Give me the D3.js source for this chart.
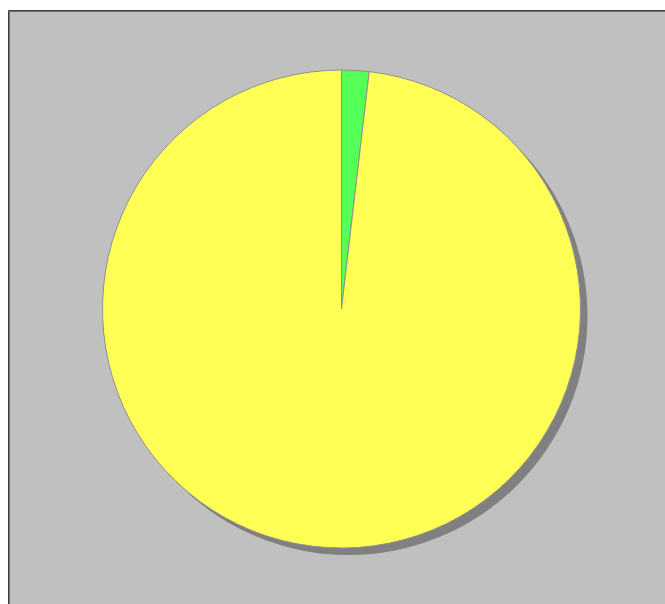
<!DOCTYPE html>
<html>
<head>
<meta charset="utf-8">
<script src="https://cdn.jsdelivr.net/npm/d3@7"></script>
<style>
html,body{margin:0;padding:0;background:#fff;}
svg{display:block;}
</style>
</head>
<body>
<script>
const categories = ["A", "B"];
const values = [1.85, 98.15];
const colors = ["#55ff55", "#ffff55"];

const W = 665, H = 604;
const svg = d3.select("body").append("svg").attr("width", W).attr("height", H);

// panel
svg.append("rect").attr("x", 8).attr("y", 10).attr("width", W).attr("height", H)
  .attr("fill", "#c0c0c0");
svg.append("path").attr("d", `M8.5,${H} V10.5 H${W}`).attr("fill", "none").attr("stroke", "#404040").attr("stroke-width", 1);
svg.append("path").attr("d", `M9.5,${H} V11.5 H${W}`).attr("fill", "none").attr("stroke", "#707070").attr("stroke-width", 1);

const cx = 341.5, cy = 309, r = 239;
const pie = d3.pie().sort(null).value(d => d)(values);
const arc = d3.arc().innerRadius(0).outerRadius(r);

// shadow
svg.append("circle").attr("cx", cx + 7).attr("cy", cy + 7).attr("r", r).attr("fill", "#808080");

const g = svg.append("g").attr("transform", `translate(${cx},${cy})`);
g.selectAll("path.slice").data(pie).join("path")
  .attr("class", "slice")
  .attr("d", arc)
  .attr("fill", (d, i) => colors[i])
  .attr("stroke", "#909090")
  .attr("stroke-width", 1);
</script>
</body>
</html>
